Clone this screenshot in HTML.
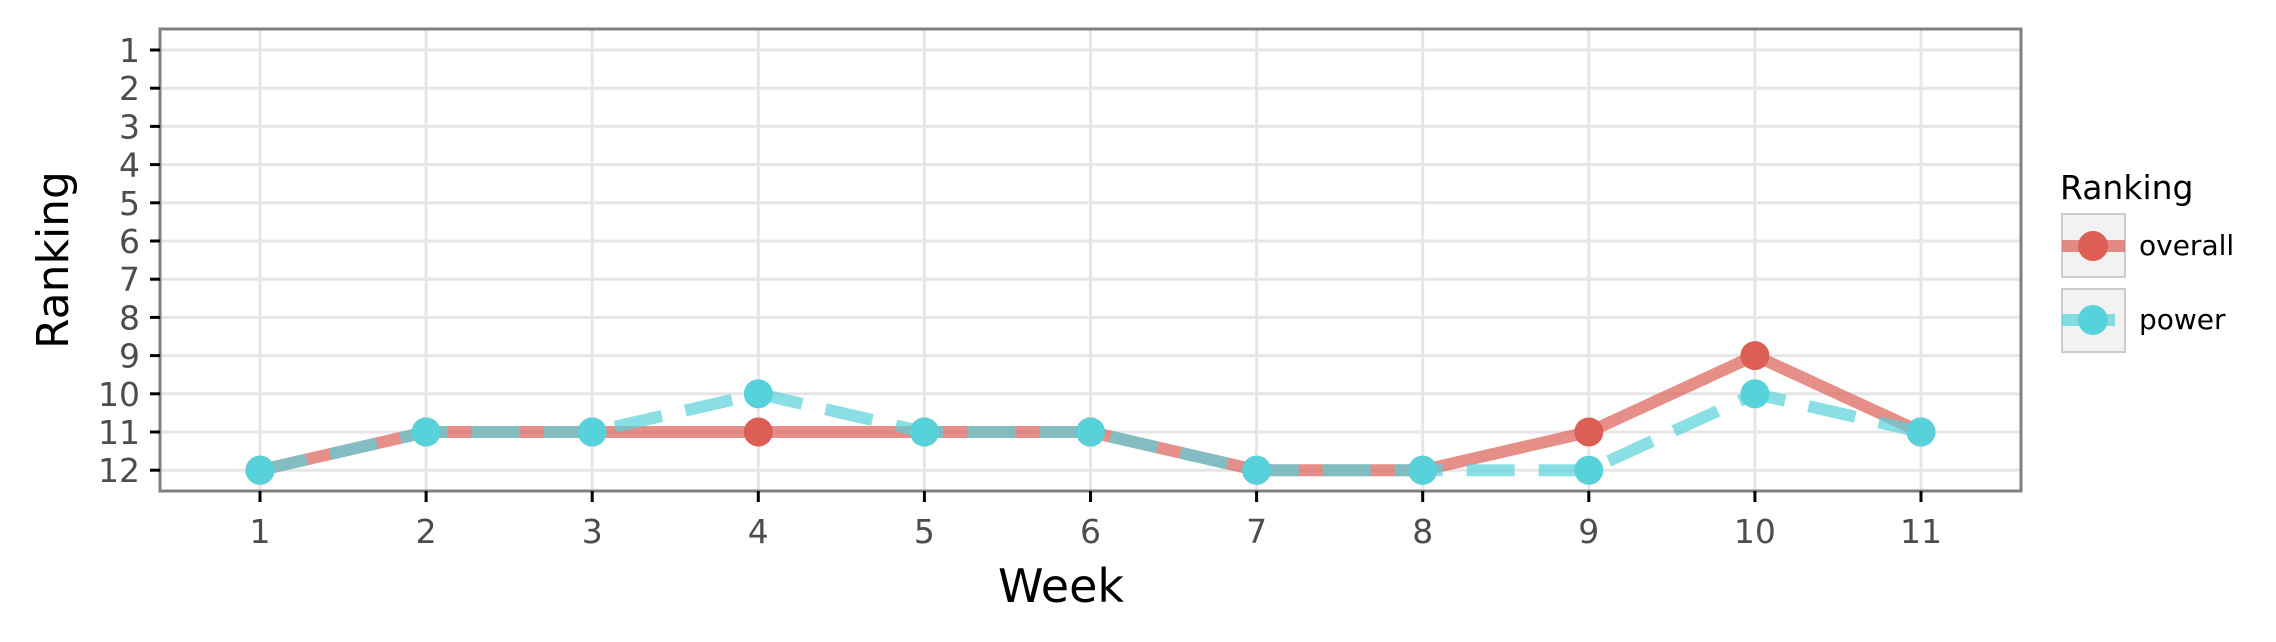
<!DOCTYPE html>
<html><head><meta charset="utf-8"><style>
html,body{margin:0;padding:0;background:#fff;}
svg{display:block;font-family:"DejaVu Sans","Liberation Sans",sans-serif;}
</style></head><body>
<svg id="chart" width="2276" height="642" viewBox="0 0 2276 642" xmlns="http://www.w3.org/2000/svg">
<g id="grid"></g>
<g id="series"></g>
<rect x="160" y="29" width="1861" height="462" fill="none" stroke="#808080" stroke-width="3"/>
<g id="axes"></g>
<text x="1061" y="602" font-size="46" text-anchor="middle" fill="#000">Week</text>
<text transform="translate(68,260) rotate(-90)" font-size="44" text-anchor="middle" fill="#000">Ranking</text>
<g>
<text x="2060" y="199" font-size="33" fill="#000">Ranking</text>
<g>
<rect x="2062" y="214" width="63" height="63" fill="#f2f2f2" stroke="#cccccc" stroke-width="2"/>
<line x1="2062" y1="246" x2="2125" y2="246" stroke="#dc5e55" stroke-opacity="0.7" stroke-width="12"/>
<circle cx="2093" cy="246" r="15" fill="#dc5e55"/>
<text x="2139" y="255" font-size="28" fill="#000">overall</text>
</g>
<g>
<rect x="2062" y="289" width="63" height="63" fill="#f2f2f2" stroke="#cccccc" stroke-width="2"/>
<line x1="2062" y1="320" x2="2115" y2="320" stroke="#58d2da" stroke-opacity="0.7" stroke-width="12"/>
<circle cx="2093" cy="320" r="15" fill="#58d2da"/>
<text x="2139" y="329" font-size="28" fill="#000">power</text>
</g>
</g>
</svg>
<script>
const weeks=[1,2,3,4,5,6,7,8,9,10,11];
const overall=[12,11,11,11,11,11,12,12,11,9,11];
const power=[12,11,11,10,11,11,12,12,12,10,11];
const yTicks=[1,2,3,4,5,6,7,8,9,10,11,12];
const NS='http://www.w3.org/2000/svg';
const xs=w=>260+(w-1)*166.1;
const ys=r=>50+(r-1)*38.2;
function mk(tag,attrs,parent){const e=document.createElementNS(NS,tag);for(const k in attrs)e.setAttribute(k,attrs[k]);parent.appendChild(e);return e;}
const grid=document.getElementById('grid'),axes=document.getElementById('axes'),ser=document.getElementById('series');
mk('rect',{x:160,y:29,width:1861,height:462,fill:'#fff'},grid);
yTicks.forEach(t=>{
 const l=mk('line',{x1:160,x2:2021,y1:ys(t),y2:ys(t),stroke:'#e6e6e6','stroke-width':3},grid);
 
 
 mk('line',{x1:150,x2:160,y1:ys(t),y2:ys(t),stroke:'#000','stroke-width':3},axes);
 const tx=mk('text',{x:140,y:ys(t)+12,'font-size':33,'text-anchor':'end',fill:'#4d4d4d'},axes);
 tx.textContent=t;
 
 
});
weeks.forEach(w=>{
 const l=mk('line',{x1:xs(w),x2:xs(w),y1:29,y2:491,stroke:'#e6e6e6','stroke-width':3},grid);
 
 
 mk('line',{x1:xs(w),x2:xs(w),y1:491,y2:502,stroke:'#000','stroke-width':3},axes);
 const tx=mk('text',{x:xs(w),y:543,'font-size':33,'text-anchor':'middle',fill:'#4d4d4d'},axes);
 tx.textContent=w;
 
 
});
function pts(v){return weeks.map((w,i)=>xs(w)+','+ys(v[i])).join(' ');}
const lo=mk('polyline',{points:pts(overall),fill:'none',stroke:'#dc5e55','stroke-opacity':0.7,'stroke-width':12,'stroke-linejoin':'round'},ser);


const lp=mk('polyline',{points:pts(power),fill:'none',stroke:'#58d2da','stroke-opacity':0.7,'stroke-width':12,'stroke-dasharray':'48 24'},ser);


weeks.forEach((w,i)=>{
 const c=mk('circle',{cx:xs(w),cy:ys(overall[i]),r:14.5,fill:'#dc5e55'},ser);
 
 
});
weeks.forEach((w,i)=>{
 const c=mk('circle',{cx:xs(w),cy:ys(power[i]),r:14.5,fill:'#58d2da'},ser);
 
 
});
</script>
</body></html>
